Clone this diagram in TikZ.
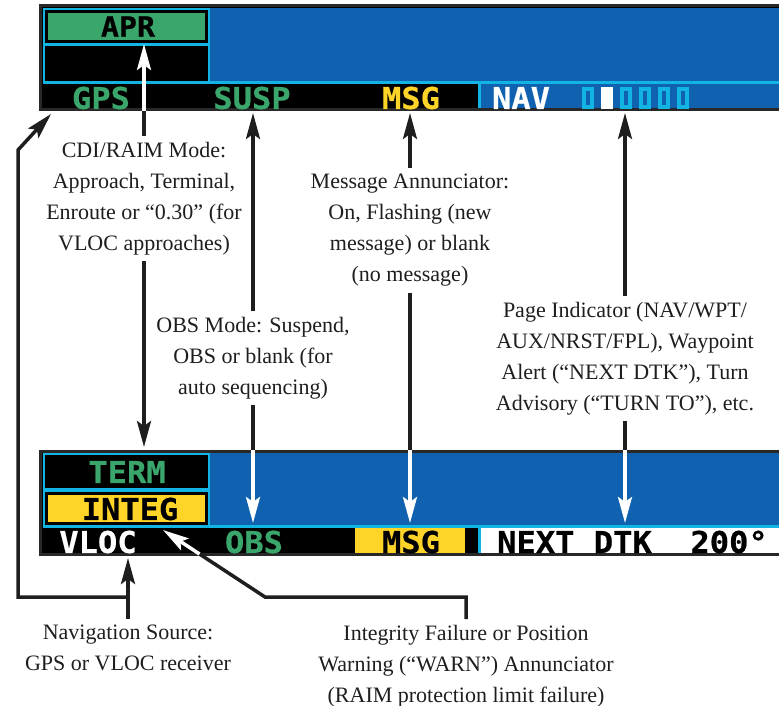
\documentclass[tikz,border=0pt]{standalone}
\usepackage{fontspec}
\setmainfont{Liberation Serif}
\newfontfamily\lcdfont{DejaVu Sans Mono}[FakeStretch=1.07,FakeBold=0.6]
\usetikzlibrary{arrows.meta,positioning,calc}

\definecolor{lcdblue}{RGB}{16,98,176}
\definecolor{lcdgreen}{RGB}{58,166,108}
\definecolor{lcdcyan}{RGB}{18,180,228}
\definecolor{lcdyellow}{RGB}{255,212,40}
\definecolor{framegray}{RGB}{40,40,40}
\definecolor{inkgray}{RGB}{30,30,30}

\begin{document}
\begin{tikzpicture}[
     x=1pt,y=-1pt,
     lcd/.style={font=\lcdfont\bfseries\fontsize{30}{30}\selectfont, inner sep=0pt},
     note/.style={font=\fontsize{22}{31}\selectfont, align=center, text=inkgray, inner sep=6pt, anchor=north},
     wire/.style={line width=3.5pt, draw=inkgray},
     pointer/.style={line width=3.5pt, draw=inkgray, -{Stealth[length=26pt,width=14pt,inset=5pt]}}]

    \useasboundingbox (0,0) rectangle (779,706);

    % upper display
    \filldraw[draw=framegray, fill=black, line width=3pt] (40,6) rectangle (800,110);
    \fill[lcdcyan] (43,8) rectangle (800,84);
    \fill[black] (45,10) rectangle (208,43);
    \fill[lcdgreen] (48,13) rectangle (205,40);
    \fill[black] (45,46) rectangle (208,81);
    \fill[lcdblue] (210,8) rectangle (800,81);
    \fill[lcdcyan] (478,84) rectangle (481,108.5);
    \fill[lcdblue] (481,84) rectangle (800,108.5);
    \foreach \i in {0,2,3,4,5}
      \draw[lcdcyan, line width=3.5pt] ({584+19*\i},89) rectangle ++(8,18);
    \fill[white] (601,87) rectangle (613,109);

    \node[lcd, font=\lcdfont\bfseries\fontsize{28}{28}\selectfont] (apr) at (128,26.5) {APR};
    \node[lcd, text=lcdgreen] (gps) at (101,98) {GPS};
    \node[lcd, text=lcdgreen] (susp) at (252,98) {SUSP};
    \node[lcd, text=lcdyellow] (msgtop) at (411,98) {MSG};
    \node[lcd, text=white] (nav) at (521,98) {NAV};

    % lower display
    \filldraw[draw=framegray, fill=black, line width=3pt] (40,451) rectangle (800,554);
    \fill[lcdcyan] (43,453) rectangle (800,528);
    \fill[black] (45,455) rectangle (208,488);
    \fill[black] (45,492) rectangle (208,525);
    \fill[lcdyellow] (48,495) rectangle (205,522);
    \fill[lcdblue] (210,453) rectangle (800,525);
    \fill[lcdyellow] (355,528) rectangle (465,552.5);
    \fill[lcdcyan] (478,526) rectangle (481,552.5);
    \fill[white] (481,528) rectangle (800,552.5);

    \node[lcd, text=lcdgreen] (term) at (127,472) {TERM};
    \node[lcd, text=black] (integ) at (130,509) {INTEG};
    \node[lcd, text=white] (vloc) at (98,542) {VLOC};
    \node[lcd, text=lcdgreen] (obs) at (254,542) {OBS};
    \node[lcd, text=black] (msgbot) at (411,542) {MSG};
    \node[lcd, text=black, anchor=west] (nextdtk) at (497,542) {NEXT DTK\ \ 200°};

    % callouts
    \node[note] (cdi) at (144,136) {CDI/RAIM Mode:\\Approach, Terminal,\\Enroute or “0.30” (for\\VLOC approaches)};
    \node[note] (obsmode) at (253,311) {OBS Mode: Suspend,\\OBS or blank (for\\auto sequencing)};
    \node[note] (msgann) at (410,168) {Message Annunciator:\\On, Flashing (new\\message) or blank\\(no message)};
    \node[note] (pageind) at (625,296) {Page Indicator (NAV/WPT/\\AUX/NRST/FPL), Waypoint\\Alert (“NEXT DTK”), Turn\\Advisory (“TURN TO”), etc.};
    \node[note] (navsrc) at (128,619) {Navigation Source:\\GPS or VLOC receiver};
    \node[note] (integfail) at (466,619) {Integrity Failure or Position\\Warning (“WARN”) Annunciator\\(RAIM protection limit failure)};

    \coordinate (topedge) at (0,111);
    \coordinate (botedge) at (0,450);
    \coordinate (aprtip) at (144,44);
    \coordinate (termtip) at (144,447);
    \coordinate (susptip) at (253,113);
    \coordinate (obstip) at (253,523);
    \coordinate (msgtip) at (410,113);
    \coordinate (msgbottip) at (410,523);
    \coordinate (pagetip) at (625,113);
    \coordinate (pagebottip) at (625,523);
    \coordinate (vloctip) at (128,558);
    \coordinate (navleft) at (18,597);
    \coordinate (navup) at (18,150);
    \coordinate (gpstip) at (51,114);
    \coordinate (integturn) at (265,597);
    \coordinate (integin) at (199.5,554);
    \coordinate (integtip) at (163,530);

    \draw[wire] (cdi.north) -- (cdi.north |- topedge);
    \draw[pointer, draw=white] (cdi.north |- topedge) -- (aprtip);
    \draw[pointer] (cdi.south) -- (termtip);

    \draw[pointer] (obsmode.north) -- (susptip);
    \draw[wire] (obsmode.south) -- (obsmode.south |- botedge);
    \draw[pointer, draw=white] (obsmode.south |- botedge) -- (obstip);

    \draw[pointer] (msgann.north) -- (msgtip);
    \draw[wire] (msgann.south) -- (msgann.south |- botedge);
    \draw[pointer, draw=white] (msgann.south |- botedge) -- (msgbottip);

    \draw[pointer] (pageind.north) -- (pagetip);
    \draw[wire] (pageind.south) -- (pageind.south |- botedge);
    \draw[pointer, draw=white] (pageind.south |- botedge) -- (pagebottip);

    \draw[pointer] (navsrc.north) -- (vloctip);
    \draw[pointer] (navsrc.north |- navleft) -- (navleft) -- (navup) -- (gpstip);

    \draw[wire] (integfail.north) -- (integfail.north |- integturn) -- (integturn) -- (integin);
    \draw[pointer, draw=white] (integin) -- (integtip);

  \end{tikzpicture}
\end{document}
